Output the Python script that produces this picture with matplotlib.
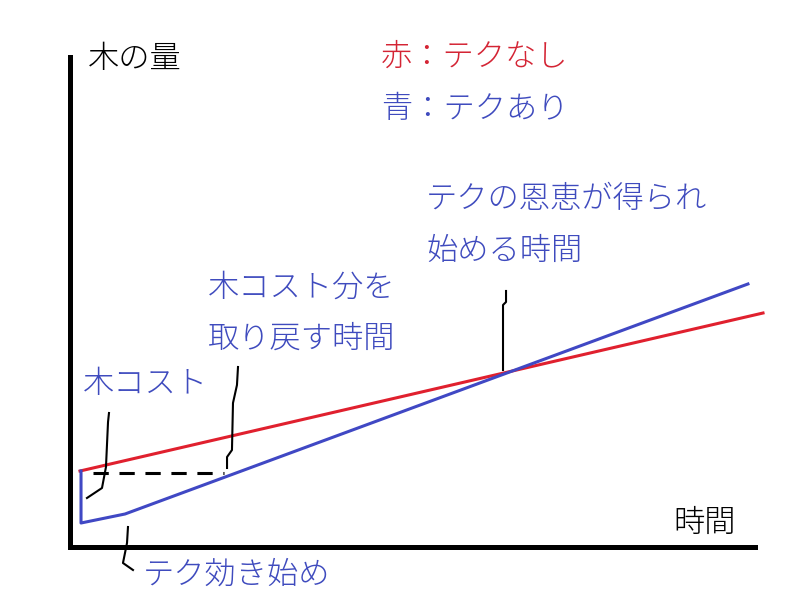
import matplotlib
matplotlib.use('Agg')
import matplotlib.pyplot as plt

plt.rcParams['font.family'] = ['Noto Sans CJK JP', 'DejaVu Sans']

# ================================
# データ (時間, 木の量) - 0..100 の相対値
# ================================
red_time = [1.53, 101.17]
red_wood = [15.42, 47.70]

blue_time = [1.68, 1.68, 8.10, 98.97]
blue_wood = [15.42, 4.80, 6.64, 53.63]

# 木コスト分の破線
dash_time = [3.43, 22.54]
dash_wood = [15.02, 15.02]

# 手書きの引き出し線
lead_cost_t = [5.76, 5.62, 5.32, 4.74, 2.55]
lead_cost_w = [27.27, 25.43, 16.24, 11.95, 9.91]

lead_back_t = [24.58, 24.43, 23.85, 23.70, 22.98, 22.98]
lead_back_w = [36.67, 32.99, 29.32, 19.71, 18.28, 16.04]

lead_start_t = [8.53, 8.39, 7.80, 9.26]
lead_start_w = [3.98, 0.72, -3.37, -4.80]

lead_cross_t = [63.68, 63.68, 63.24, 63.24]
lead_cross_w = [52.20, 49.95, 49.34, 36.06]

RED = '#e0202e'
BLUE = '#4048c4'
RED_TXT = '#d42434'
BLUE_TXT = '#3f4bbe'

fig = plt.figure(figsize=(8, 6), dpi=100)
ax = fig.add_axes([69.5 / 800, 53.5 / 600, 685.5 / 800, 489.5 / 600])
ax.set_xlim(0, 100)
ax.set_ylim(0, 100)
ax.set_xticks([])
ax.set_yticks([])
for side in ['top', 'right']:
    ax.spines[side].set_visible(False)
for side in ['left', 'bottom']:
    ax.spines[side].set_linewidth(3.6)
    ax.spines[side].set_capstyle('projecting')

ax.plot(red_time, red_wood, color=RED, lw=2.2, clip_on=False)
ax.plot(blue_time, blue_wood, color=BLUE, lw=2.2, clip_on=False)
ax.plot(dash_time, dash_wood, color='black', lw=2.2, dashes=(5, 3.5))

for t, w in [(lead_cost_t, lead_cost_w), (lead_back_t, lead_back_w),
             (lead_start_t, lead_start_w), (lead_cross_t, lead_cross_w)]:
    ax.plot(t, w, color='black', lw=1.5, clip_on=False)

fs = 22.5
def put(px, py, s, c):
    fig.text(px / 800, 1 - py / 600, s, color=c, fontsize=fs, fontweight='light',
             ha='left', va='center')

put(88, 59, '木の量', 'black')
put(673, 523, '時間', 'black')
put(381, 57, '赤：テクなし', RED_TXT)
put(381, 109, '青：テクあり', BLUE_TXT)
put(426, 199, 'テクの恩恵が得られ', BLUE_TXT)
put(426, 251, '始める時間', BLUE_TXT)
put(208, 288, '木コスト分を', BLUE_TXT)
put(208, 339, '取り戻す時間', BLUE_TXT)
put(83, 384, '木コスト', BLUE_TXT)
put(143, 575, 'テク効き始め', BLUE_TXT)

plt.savefig('out.png', dpi=100)
